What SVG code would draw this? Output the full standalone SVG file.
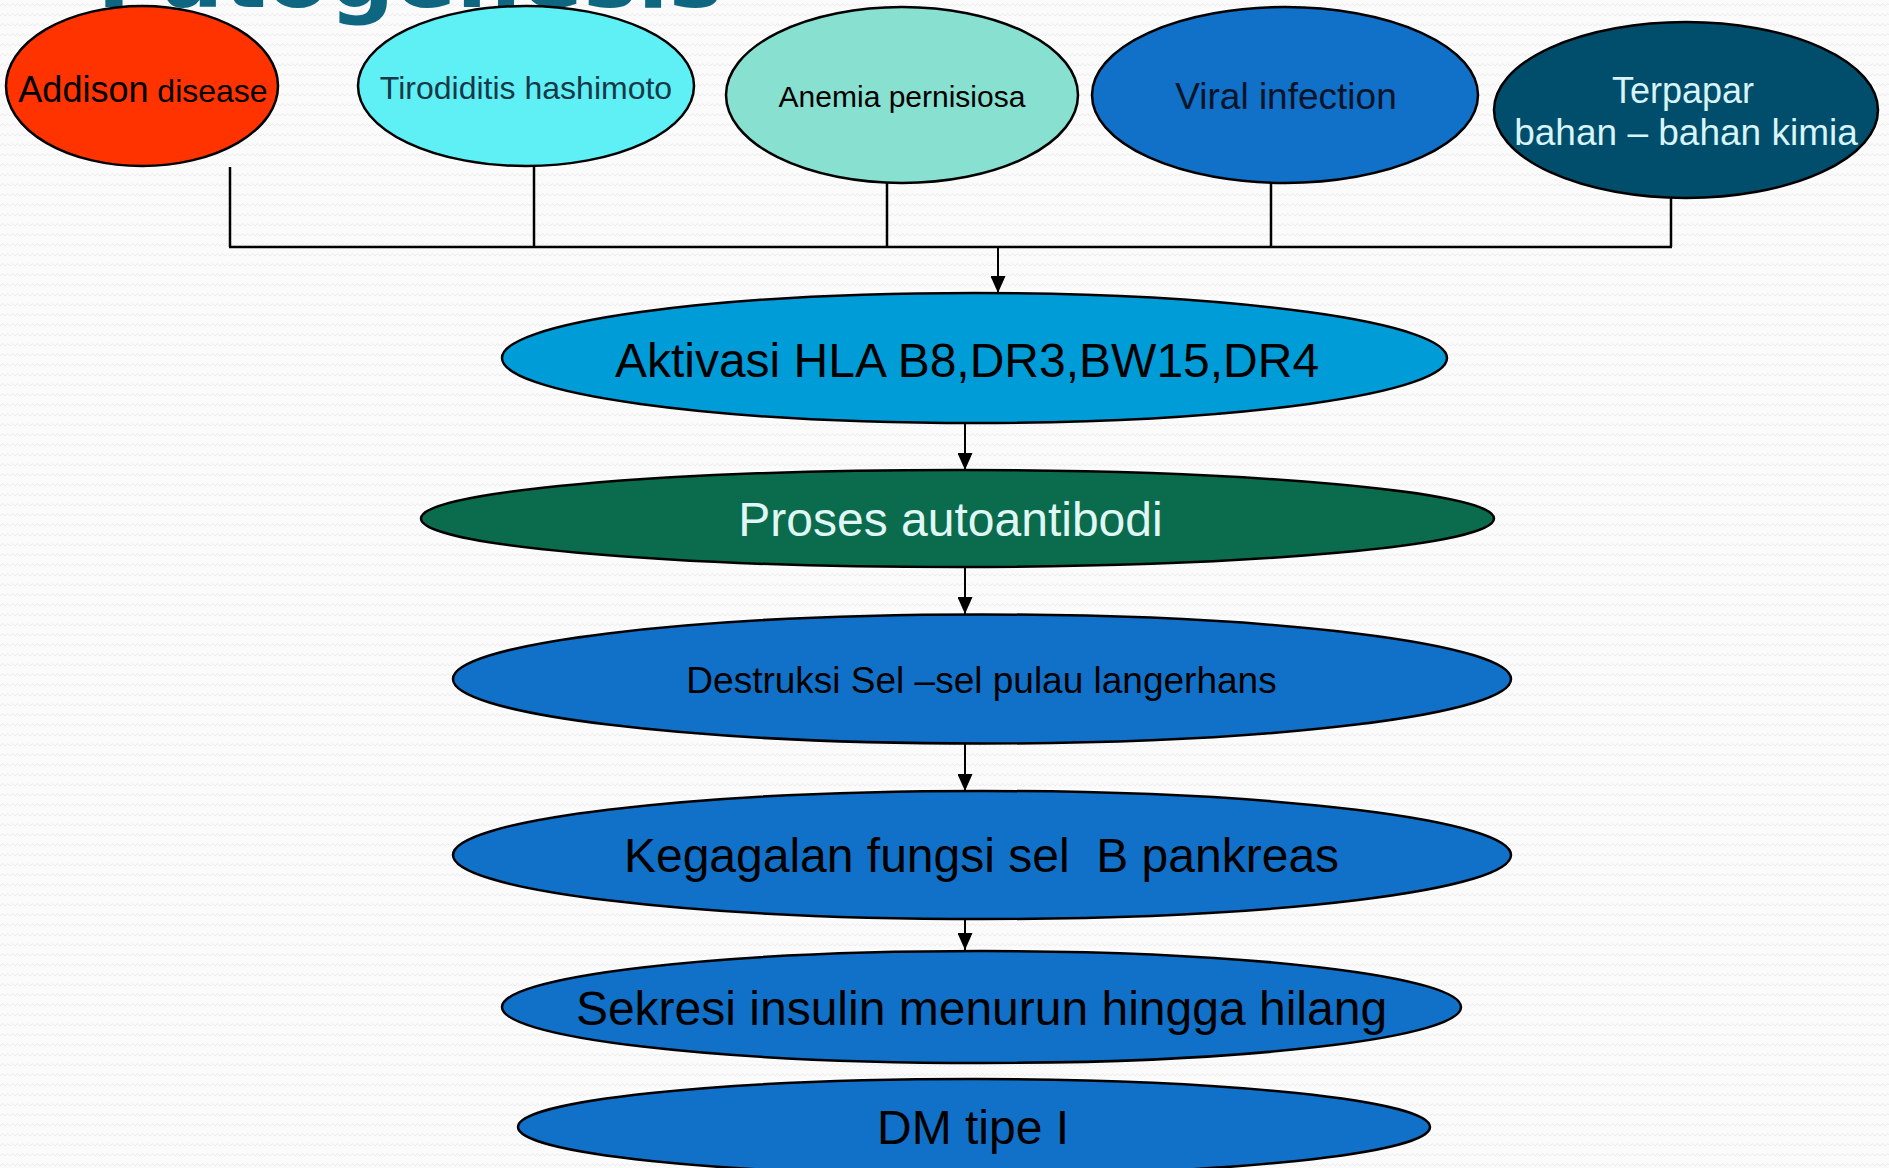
<svg xmlns="http://www.w3.org/2000/svg" width="1889" height="1168" viewBox="0 0 1889 1168">
  <defs>
    <pattern id="bgpat" width="10" height="10" patternUnits="userSpaceOnUse">
      <rect width="10" height="10" fill="#fbfbfb"/>
      <path d="M0,6 L2.5,3.5 L5,6 L7.5,3.5 L10,6" fill="none" stroke="#ececec" stroke-width="1"/>
    </pattern>
    <marker id="arrow" markerWidth="17" markerHeight="15" refX="17" refY="7.5" orient="auto" markerUnits="userSpaceOnUse">
      <path d="M0,0 L17,7.5 L0,15 Z" fill="#000"/>
    </marker>
    <style>
      .node { stroke: #000; stroke-width: 2.5; }
      .lbl { font-family: "Liberation Sans", Arial, sans-serif; text-anchor: middle; white-space: pre; }
      .conn { stroke: #000; stroke-width: 2.5; fill: none; }
      .arr { stroke: #000; stroke-width: 2; fill: none; marker-end: url(#arrow); }
    </style>
  </defs>
  <rect width="1889" height="1168" fill="url(#bgpat)"/>
  <text x="97" y="7" font-family="'DejaVu Sans', sans-serif" font-size="88" font-weight="bold" fill="#0E6680" textLength="626" lengthAdjust="spacingAndGlyphs">Patogenesis</text>

  <g id="connectors">
    <line class="conn" x1="230" y1="167" x2="230" y2="247"/>
    <line class="conn" x1="534" y1="166" x2="534" y2="247"/>
    <line class="conn" x1="887" y1="183" x2="887" y2="247"/>
    <line class="conn" x1="1271" y1="183" x2="1271" y2="247"/>
    <line class="conn" x1="1671" y1="198" x2="1671" y2="247"/>
    <line class="conn" x1="229" y1="247" x2="1672" y2="247"/>
    <line class="arr" x1="998" y1="247" x2="998" y2="293"/>
    <line class="arr" x1="965" y1="423" x2="965" y2="470"/>
    <line class="arr" x1="965" y1="567" x2="965" y2="614"/>
    <line class="arr" x1="965" y1="743" x2="965" y2="791"/>
    <line class="arr" x1="965" y1="919" x2="965" y2="950"/>
  </g>

  <g id="addison">
    <ellipse class="node" cx="142" cy="86" rx="136" ry="80" fill="#FF3300"/>
    <text class="lbl" x="143" y="102" fill="#000"><tspan font-size="36">Addison</tspan><tspan font-size="32"> disease</tspan></text>
  </g>
  <g id="tirodiditis">
    <ellipse class="node" cx="526" cy="86" rx="168" ry="80" fill="#5EF0F5"/>
    <text class="lbl" x="526" y="99" font-size="32" fill="#173848">Tirodiditis hashimoto</text>
  </g>
  <g id="anemia">
    <ellipse class="node" cx="902" cy="95" rx="176" ry="88" fill="#88E0D0"/>
    <text class="lbl" x="902" y="107" font-size="30" fill="#000">Anemia pernisiosa</text>
  </g>
  <g id="viral">
    <ellipse class="node" cx="1285" cy="95" rx="193" ry="88" fill="#1170C8"/>
    <text class="lbl" x="1286" y="109" font-size="37" fill="#06152a">Viral infection</text>
  </g>
  <g id="terpapar">
    <ellipse class="node" cx="1686" cy="110" rx="192" ry="88" fill="#004E6C"/>
    <text class="lbl" x="1683" y="103" font-size="36" fill="#D8F4F8">Terpapar</text>
    <text class="lbl" x="1686" y="145" font-size="37" fill="#D8F4F8">bahan – bahan kimia</text>
  </g>
  <g id="aktivasi">
    <ellipse class="node" cx="974.5" cy="358" rx="472.5" ry="65" fill="#009CD8"/>
    <text class="lbl" x="967" y="377" font-size="48" fill="#000">Aktivasi HLA B8,DR3,BW15,DR4</text>
  </g>
  <g id="proses">
    <ellipse class="node" cx="957.5" cy="518.5" rx="536.5" ry="48.5" fill="#0B6B4D"/>
    <text class="lbl" x="950.5" y="536" font-size="48" fill="#E0F8F5">Proses autoantibodi</text>
  </g>
  <g id="destruksi">
    <ellipse class="node" cx="982" cy="679" rx="529" ry="64.5" fill="#1170C8"/>
    <text class="lbl" x="981.5" y="692.5" font-size="37" fill="#000">Destruksi Sel –sel pulau langerhans</text>
  </g>
  <g id="kegagalan">
    <ellipse class="node" cx="982" cy="855" rx="529" ry="64" fill="#1170C8"/>
    <text class="lbl" x="981.5" y="872" font-size="48" fill="#000" xml:space="preserve">Kegagalan fungsi sel  B pankreas</text>
  </g>
  <g id="sekresi">
    <ellipse class="node" cx="981.5" cy="1007" rx="479.5" ry="56" fill="#1170C8"/>
    <text class="lbl" x="981.5" y="1025" font-size="48" fill="#000">Sekresi insulin menurun hingga hilang</text>
  </g>
  <g id="dm">
    <ellipse class="node" cx="974" cy="1127" rx="456" ry="48" fill="#1170C8"/>
    <text class="lbl" x="973" y="1144" font-size="48" fill="#000">DM tipe I</text>
  </g>
</svg>
